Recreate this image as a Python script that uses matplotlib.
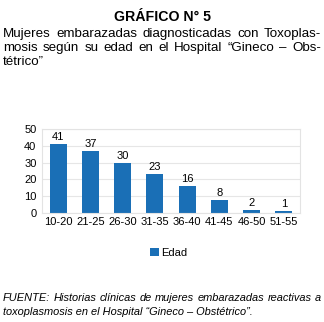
import matplotlib
matplotlib.use("Agg")
import matplotlib.pyplot as plt

# Casos de toxoplasmosis por grupo de edad
grupos = ["10-20", "21-25", "26-30", "31-35", "36-40", "41-45", "46-50", "51-55"]
casos = [41, 37, 30, 23, 16, 8, 2, 1]
yticks = [0, 10, 20, 30, 40, 50]

titulo = "GRÁFICO N° 5"
subtitulo = [
    ("Mujeres embarazadas diagnosticadas con Toxoplas-", True),
    ("mosis según su edad en el Hospital “Gineco – Obs-", True),
    ("tétrico”", False),
]
fuente = [
    ("FUENTE: Historias clínicas de mujeres embarazadas reactivas a", True),
    ("toxoplasmosis en el Hospital “Gineco – Obstétrico”.", False),
]

BLUE = "#1a6fb6"
W, H = 324, 322

plt.rcParams["font.family"] = ["Liberation Sans", "DejaVu Sans"]
fig = plt.figure(figsize=(W / 100, H / 100), dpi=100)
renderer = fig.canvas.get_renderer()


def px(x, y):
    return x / W, 1 - y / H


def write_line(text, y, x0, x1, justify, **kw):
    """Draw one line of text; spread words to fill x0..x1 when justified."""
    words = text.split(" ")
    if not justify or len(words) == 1:
        fig.text(*px(x0, y), text, va="center", ha="left", **kw)
        return
    arts = [fig.text(*px(x0, y), w, va="center", ha="left", **kw) for w in words]
    widths = [a.get_window_extent(renderer).width for a in arts]
    gap = (x1 - x0 - sum(widths)) / (len(words) - 1)
    x = x0
    for a, w in zip(arts, widths):
        a.set_position(px(x, y))
        x += w + gap


fig.text(*px(163, 17), titulo, ha="center", va="center", fontsize=10.2, fontweight="bold")
for i, (line, just) in enumerate(subtitulo):
    write_line(line, 34 + 14 * i, 3, 321, just, fontsize=9.6)

ax = fig.add_axes([42 / W, 1 - 213 / H, 258 / W, 84 / H])
xs = range(len(grupos))
bars = ax.bar(xs, casos, width=0.53, color=BLUE, label="Edad", zorder=2)
for x, v in zip(xs, casos):
    ax.text(x, v + 1.2, str(v), ha="center", va="bottom", fontsize=8)
ax.set_xlim(-0.5, len(grupos) - 0.5)
ax.set_ylim(0, 50)
ax.set_yticks(yticks)
ax.set_xticks(list(xs))
ax.set_xticklabels(grupos)
ax.tick_params(length=0, labelsize=8, pad=3)
ax.tick_params(axis="y", pad=4)
ax.grid(axis="y", color="#e6e6e6", linewidth=0.8, zorder=0)
for s in ax.spines.values():
    s.set_color("#e3e3e3")
    s.set_linewidth(0.8)

fig.legend(handles=[bars], labels=["Edad"], loc="center", bbox_to_anchor=px(169, 253),
           frameon=False, fontsize=8, handlelength=0.8, handleheight=0.8, handletextpad=0.2)

for i, (line, just) in enumerate(fuente):
    write_line(line, 298 + 14 * i, 3, 321, just, fontsize=7.9, style="italic")

fig.savefig("out.png", dpi=100)
